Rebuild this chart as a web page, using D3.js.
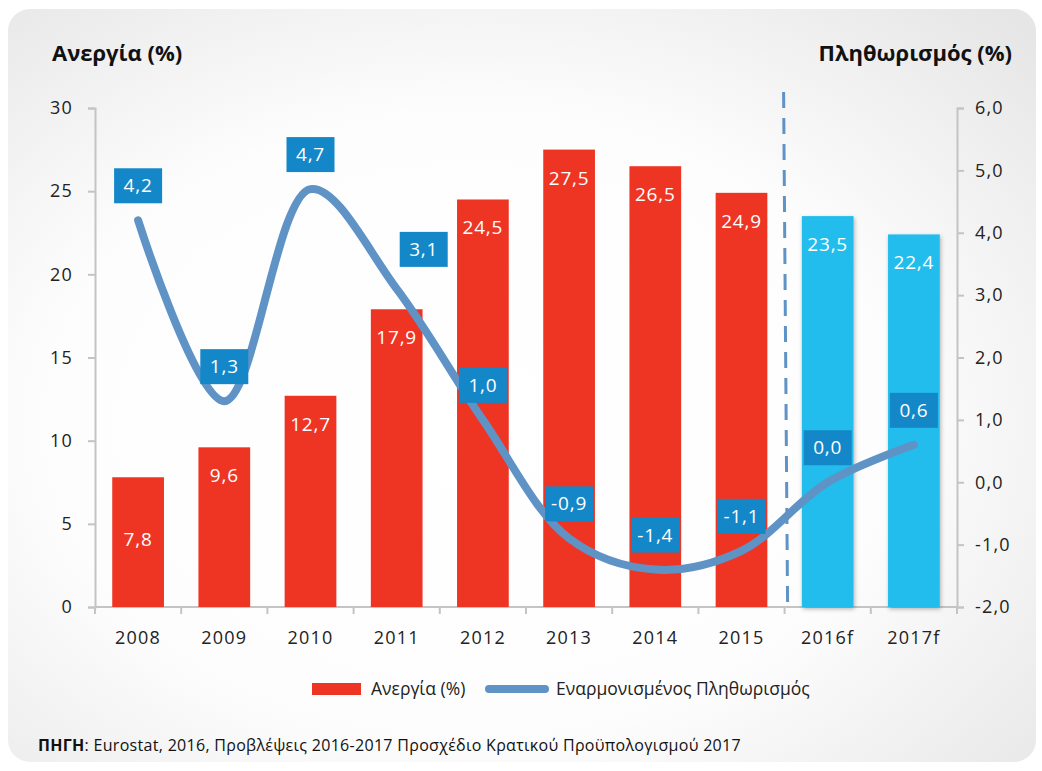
<!DOCTYPE html>
<html>
<head>
<meta charset="utf-8">
<script src="https://cdn.jsdelivr.net/npm/d3@7"></script>
<style>
  body { margin: 0; background: #fff; }
  svg { display: block; font-family: "Open Sans", sans-serif; }
</style>
</head>
<body>
<div id="chart"></div>
<script>
// data
const years = ["2008", "2009", "2010", "2011", "2012", "2013", "2014", "2015", "2016f", "2017f"];
const unemployment = [7.8, 9.6, 12.7, 17.9, 24.5, 27.5, 26.5, 24.9, 23.5, 22.4];
const inflation = [4.2, 1.3, 4.7, 3.1, 1.0, -0.9, -1.4, -1.1, 0.0, 0.6];
const forecastYears = ["2016f", "2017f"];
const leftTicks = [0, 5, 10, 15, 20, 25, 30];
const rightTicks = [-2, -1, 0, 1, 2, 3, 4, 5, 6];

const W = 1042, H = 771;
const red = "#ee3524", cyan = "#21bdec", lineBlue = "#5f93c6", labelBlue = "#1487c9";

const gr = d3.formatLocale({decimal: ",", thousands: ".", grouping: [3], currency: ["", "€"], minus: "-"});
const f1 = gr.format(".1f");

const svg = d3.select("#chart").append("svg")
    .attr("width", W).attr("height", H);

const defs = svg.append("defs");
const bg = defs.append("radialGradient").attr("id", "bg")
    .attr("cx", "45%").attr("cy", "55%").attr("r", "75%");
bg.append("stop").attr("offset", "0%").attr("stop-color", "#ffffff");
bg.append("stop").attr("offset", "55%").attr("stop-color", "#fdfdfd");
bg.append("stop").attr("offset", "100%").attr("stop-color", "#e6e6e6");
const shadow = defs.append("filter").attr("id", "shadow")
    .attr("x", "-20%").attr("y", "-5%").attr("width", "140%").attr("height", "115%");
shadow.append("feDropShadow").attr("dx", 1).attr("dy", 2).attr("stdDeviation", 2)
    .attr("flood-color", "#000").attr("flood-opacity", 0.3);

// panel background
svg.append("rect")
    .attr("x", 8).attr("y", 9).attr("width", 1028).attr("height", 753)
    .attr("rx", 22).attr("fill", "url(#bg)");

// scales
const x = d3.scaleBand().domain(years).range([95, 957]).paddingInner(0.4).paddingOuter(0.2);
const yL = d3.scaleLinear().domain([0, 30]).range([607, 108]);
const yR = d3.scaleLinear().domain([-2, 6]).range([607, 108]);

// axes
const axisColor = "#c4c4c4";
const leftAxis = svg.append("g")
    .attr("transform", "translate(95,0)")
    .call(d3.axisLeft(yL).tickValues(leftTicks).tickSize(7).tickPadding(15));
const rightAxis = svg.append("g")
    .attr("transform", "translate(957,0)")
    .call(d3.axisRight(yR).tickValues(rightTicks).tickSize(7).tickPadding(11).tickFormat(f1));
[leftAxis, rightAxis].forEach(a => {
  a.select(".domain").attr("stroke", axisColor).attr("stroke-width", 2);
  a.selectAll(".tick line").attr("stroke", axisColor).attr("stroke-width", 2);
  a.selectAll(".tick text").attr("fill", "#222").style("font-size", "18px")
      .style("letter-spacing", "1.2px")
      .style("font-family", "Open Sans, sans-serif");
});

// x baseline and tick marks at band boundaries
svg.append("line").attr("x1", 95).attr("x2", 957).attr("y1", yL(0)).attr("y2", yL(0))
    .attr("stroke", axisColor).attr("stroke-width", 2);
svg.append("g").selectAll("line").data(d3.range(years.length + 1)).join("line")
    .attr("x1", i => 95 + i * x.step()).attr("x2", i => 95 + i * x.step())
    .attr("y1", yL(0)).attr("y2", yL(0) + 7)
    .attr("stroke", axisColor).attr("stroke-width", 2);
svg.append("g").selectAll("text").data(years).join("text")
    .attr("x", d => x(d) + x.bandwidth() / 2).attr("y", 644)
    .attr("text-anchor", "middle").attr("fill", "#222").style("font-size", "18px")
    .style("letter-spacing", "1.2px")
    .text(d => d);

// bars
const bars = svg.append("g");
bars.selectAll("rect").data(years).join("rect")
    .attr("x", d => x(d)).attr("width", x.bandwidth())
    .attr("y", (d, i) => yL(unemployment[i]))
    .attr("height", (d, i) => yL(0) - yL(unemployment[i]))
    .attr("fill", d => forecastYears.includes(d) ? cyan : red)
    .attr("filter", d => forecastYears.includes(d) ? "url(#shadow)" : null);
bars.selectAll("text").data(years).join("text")
    .attr("x", d => x(d) + x.bandwidth() / 2)
    .attr("y", (d, i) => {
      const top = yL(unemployment[i]), h = yL(0) - top;
      return h < 140 ? top + h / 2 + 4 : top + 35;
    })
    .attr("text-anchor", "middle").attr("fill", "#fff").style("font-size", "19px")
    .style("letter-spacing", "0.8px")
    .text((d, i) => f1(unemployment[i]));

// dashed divider before forecasts
const divX = x(forecastYears[0]) - x.step() * x.paddingInner() / 2;
svg.append("line").attr("x1", divX - 1).attr("x2", divX + 3).attr("y1", 92).attr("y2", yL(0))
    .attr("stroke", lineBlue).attr("stroke-width", 3).attr("stroke-dasharray", "16,10");

// inflation line
const cx = d => x(d) + x.bandwidth() / 2;
const line = d3.line()
    .x((d, i) => cx(years[i])).y(d => yR(d))
    .curve(d3.curveCatmullRom.alpha(0.5));
svg.append("path").datum(inflation)
    .attr("d", line).attr("fill", "none")
    .attr("stroke", lineBlue).attr("stroke-width", 8).attr("stroke-linecap", "round");

// inflation labels
const lbl = svg.append("g").selectAll("g").data(inflation).join("g")
    .attr("transform", (d, i) => {
      const dx = years[i] === "2011" ? 27 : 0;
      const dy = years[i] === "2011" ? -40 : -35;
      return `translate(${cx(years[i]) + dx},${yR(d) + dy})`;
    });
lbl.append("rect").attr("x", -24).attr("y", -17).attr("width", 48).attr("height", 35)
    .attr("fill", labelBlue);
lbl.append("text").attr("y", 7).attr("text-anchor", "middle").attr("fill", "#fff")
    .style("font-size", "19px").style("letter-spacing", "0.8px").text(d => f1(d));

// titles
svg.append("text").attr("x", 52).attr("y", 61).attr("fill", "#111")
    .style("font-size", "22px").style("font-weight", "bold").text("Ανεργία (%)");
svg.append("text").attr("x", 1012).attr("y", 61).attr("text-anchor", "end").attr("fill", "#111")
    .style("font-size", "22px").style("font-weight", "bold").text("Πληθωρισμός (%)");

// legend
const leg = svg.append("g");
leg.append("rect").attr("x", 312).attr("y", 683).attr("width", 49).attr("height", 12).attr("fill", red);
leg.append("text").attr("x", 371).attr("y", 695).attr("fill", "#222").style("font-size", "17.5px")
    .text("Ανεργία (%)");
leg.append("line").attr("x1", 489).attr("x2", 545).attr("y1", 689).attr("y2", 689)
    .attr("stroke", lineBlue).attr("stroke-width", 8).attr("stroke-linecap", "round");
leg.append("text").attr("x", 556).attr("y", 695).attr("fill", "#222").style("font-size", "17.5px")
    .text("Εναρμονισμένος Πληθωρισμός");

// source
const src = svg.append("text").attr("x", 38).attr("y", 751).attr("fill", "#111")
    .style("font-size", "16px").style("letter-spacing", "0.3px");
src.append("tspan").style("font-weight", "bold").text("ΠΗΓΗ");
src.append("tspan").text(": Eurostat, 2016, Προβλέψεις 2016-2017 Προσχέδιο Κρατικού Προϋπολογισμού 2017");
</script>
</body>
</html>
